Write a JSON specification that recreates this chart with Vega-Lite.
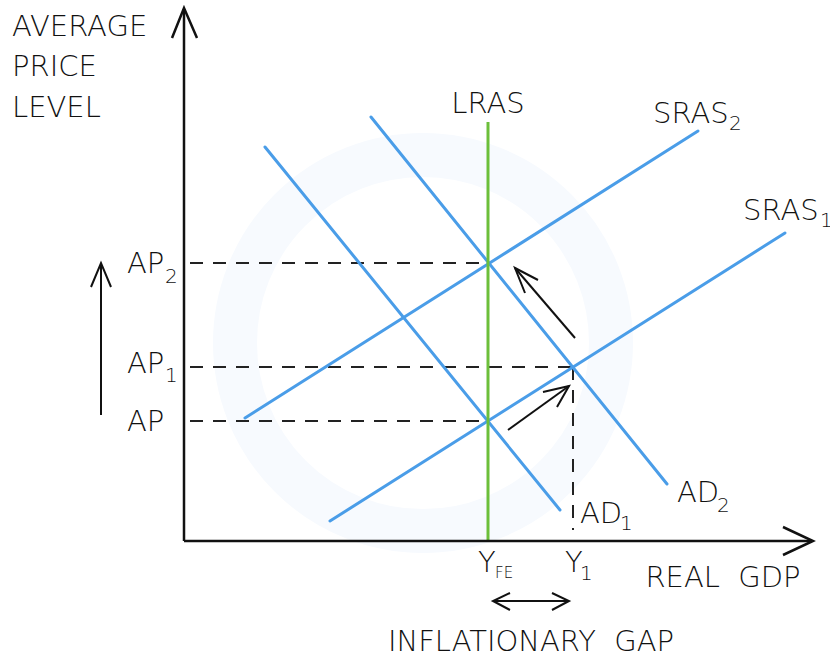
{
  "$schema": "https://vega.github.io/schema/vega-lite/v6.json",
  "width": 830,
  "height": 655,
  "autosize": {"type": "none"},
  "padding": 0,
  "background": "white",
  "config": {"view": {"stroke": null}},
  "layer": [
    {
      "data": {"values": [{"name": "watermark ring", "x": 239, "y": 198}]},
      "mark": {"type": "point", "shape": "circle", "filled": false, "size": 141376, "strokeWidth": 44, "color": "#f7fafe", "opacity": 1},
      "encoding": {
        "x": {"field": "x", "type": "quantitative", "scale": {"domain": [-184, 646], "nice": false, "zero": false}, "axis": null},
        "y": {"field": "y", "type": "quantitative", "scale": {"domain": [-114, 541], "nice": false, "zero": false}, "axis": null}
      }
    },
    {
      "data": {"values": [
        {"id": "ap2", "o": 1, "x": 6, "y": 278}, {"id": "ap2", "o": 2, "x": 304, "y": 278},
        {"id": "ap1", "o": 1, "x": 6, "y": 174}, {"id": "ap1", "o": 2, "x": 389, "y": 174},
        {"id": "ap", "o": 1, "x": 6, "y": 120}, {"id": "ap", "o": 2, "x": 304, "y": 120},
        {"id": "y1", "o": 1, "x": 389, "y": 174}, {"id": "y1", "o": 2, "x": 389, "y": 11}
      ]},
      "mark": {"type": "line", "color": "#222222", "strokeWidth": 2, "strokeDash": [13, 10]},
      "encoding": {
        "x": {"field": "x", "type": "quantitative", "scale": {"domain": [-184, 646], "nice": false, "zero": false}, "axis": null},
        "y": {"field": "y", "type": "quantitative", "scale": {"domain": [-114, 541], "nice": false, "zero": false}, "axis": null},
        "detail": {"field": "id"},
        "order": {"field": "o"}
      }
    },
    {
      "data": {"values": [
        {"id": "SRAS2", "o": 1, "x": 61, "y": 123}, {"id": "SRAS2", "o": 2, "x": 514, "y": 410},
        {"id": "SRAS1", "o": 1, "x": 146, "y": 20}, {"id": "SRAS1", "o": 2, "x": 601, "y": 308},
        {"id": "AD1", "o": 1, "x": 81, "y": 394}, {"id": "AD1", "o": 2, "x": 376, "y": 31},
        {"id": "AD2", "o": 1, "x": 187, "y": 424}, {"id": "AD2", "o": 2, "x": 483, "y": 57}
      ]},
      "mark": {"type": "line", "color": "#4a9de8", "strokeWidth": 3, "strokeCap": "round"},
      "encoding": {
        "x": {"field": "x", "type": "quantitative", "scale": {"domain": [-184, 646], "nice": false, "zero": false}, "axis": null},
        "y": {"field": "y", "type": "quantitative", "scale": {"domain": [-114, 541], "nice": false, "zero": false}, "axis": null},
        "detail": {"field": "id"},
        "order": {"field": "o"}
      }
    },
    {
      "data": {"values": [
        {"id": "LRAS", "o": 1, "x": 304, "y": 419}, {"id": "LRAS", "o": 2, "x": 304, "y": 0}
      ]},
      "mark": {"type": "line", "color": "#6cbf3a", "strokeWidth": 3},
      "encoding": {
        "x": {"field": "x", "type": "quantitative", "scale": {"domain": [-184, 646], "nice": false, "zero": false}, "axis": null},
        "y": {"field": "y", "type": "quantitative", "scale": {"domain": [-114, 541], "nice": false, "zero": false}, "axis": null},
        "detail": {"field": "id"},
        "order": {"field": "o"}
      }
    },
    {
      "data": {"values": [
        {"id": "yaxis", "o": 1, "x": 0, "y": 0}, {"id": "yaxis", "o": 2, "x": 0, "y": 532},
        {"id": "yhead", "o": 1, "x": -12, "y": 503}, {"id": "yhead", "o": 2, "x": 0, "y": 533}, {"id": "yhead", "o": 3, "x": 13, "y": 503},
        {"id": "xaxis", "o": 1, "x": 0, "y": 0}, {"id": "xaxis", "o": 2, "x": 628, "y": 0},
        {"id": "xhead", "o": 1, "x": 599, "y": 14}, {"id": "xhead", "o": 2, "x": 629, "y": 0}, {"id": "xhead", "o": 3, "x": 599, "y": -14}
      ]},
      "mark": {"type": "line", "color": "#111111", "strokeWidth": 2.5, "strokeJoin": "miter"},
      "encoding": {
        "x": {"field": "x", "type": "quantitative", "scale": {"domain": [-184, 646], "nice": false, "zero": false}, "axis": null},
        "y": {"field": "y", "type": "quantitative", "scale": {"domain": [-114, 541], "nice": false, "zero": false}, "axis": null},
        "detail": {"field": "id"},
        "order": {"field": "o"}
      }
    },
    {
      "data": {"values": [
        {"id": "up", "o": 1, "x": -83, "y": 126}, {"id": "up", "o": 2, "x": -83, "y": 278},
        {"id": "uphead", "o": 1, "x": -93, "y": 254}, {"id": "uphead", "o": 2, "x": -83, "y": 278}, {"id": "uphead", "o": 3, "x": -73, "y": 254},
        {"id": "a1", "o": 1, "x": 324, "y": 111}, {"id": "a1", "o": 2, "x": 385, "y": 155},
        {"id": "a1head", "o": 1, "x": 359, "y": 149}, {"id": "a1head", "o": 2, "x": 385, "y": 155}, {"id": "a1head", "o": 3, "x": 373, "y": 134},
        {"id": "a2", "o": 1, "x": 391, "y": 203}, {"id": "a2", "o": 2, "x": 331, "y": 273},
        {"id": "a2head", "o": 1, "x": 354, "y": 261}, {"id": "a2head", "o": 2, "x": 331, "y": 273}, {"id": "a2head", "o": 3, "x": 341, "y": 248},
        {"id": "gap", "o": 1, "x": 309, "y": -60}, {"id": "gap", "o": 2, "x": 385, "y": -60},
        {"id": "gapl", "o": 1, "x": 326, "y": -52}, {"id": "gapl", "o": 2, "x": 309, "y": -60}, {"id": "gapl", "o": 3, "x": 326, "y": -69},
        {"id": "gapr", "o": 1, "x": 368, "y": -52}, {"id": "gapr", "o": 2, "x": 385, "y": -60}, {"id": "gapr", "o": 3, "x": 368, "y": -69}
      ]},
      "mark": {"type": "line", "color": "#111111", "strokeWidth": 2, "strokeJoin": "miter"},
      "encoding": {
        "x": {"field": "x", "type": "quantitative", "scale": {"domain": [-184, 646], "nice": false, "zero": false}, "axis": null},
        "y": {"field": "y", "type": "quantitative", "scale": {"domain": [-114, 541], "nice": false, "zero": false}, "axis": null},
        "detail": {"field": "id"},
        "order": {"field": "o"}
      }
    },
    {
      "data": {"values": [
        {"label": "AVERAGE", "x": -172, "y": 505},
        {"label": "PRICE", "x": -172, "y": 465},
        {"label": "LEVEL", "x": -172, "y": 424},
        {"label": "SRAS", "x": 469, "y": 418},
        {"label": "SRAS", "x": 559, "y": 321},
        {"label": "AP", "x": -57, "y": 268},
        {"label": "AP", "x": -57, "y": 168},
        {"label": "AP", "x": -57, "y": 110},
        {"label": "AD", "x": 396, "y": 18},
        {"label": "AD", "x": 493, "y": 39},
        {"label": "Y", "x": 294, "y": -31},
        {"label": "Y", "x": 381, "y": -31}
      ]},
      "mark": {"type": "text", "font": "DejaVu Sans", "fontSize": 29, "fontWeight": 300, "color": "#111111", "align": "left", "baseline": "alphabetic"},
      "encoding": {
        "x": {"field": "x", "type": "quantitative", "scale": {"domain": [-184, 646], "nice": false, "zero": false}, "axis": null},
        "y": {"field": "y", "type": "quantitative", "scale": {"domain": [-114, 541], "nice": false, "zero": false}, "axis": null},
        "text": {"field": "label"}
      }
    },
    {
      "data": {"values": [
        {"label": "LRAS", "x": 304, "y": 428},
        {"label": "REAL\u00a0\u00a0GDP", "x": 539, "y": -46},
        {"label": "INFLATIONARY\u00a0\u00a0GAP", "x": 347, "y": -110}
      ]},
      "mark": {"type": "text", "font": "DejaVu Sans", "fontSize": 29, "fontWeight": 300, "color": "#111111", "align": "center", "baseline": "alphabetic"},
      "encoding": {
        "x": {"field": "x", "type": "quantitative", "scale": {"domain": [-184, 646], "nice": false, "zero": false}, "axis": null},
        "y": {"field": "y", "type": "quantitative", "scale": {"domain": [-114, 541], "nice": false, "zero": false}, "axis": null},
        "text": {"field": "label"}
      }
    },
    {
      "data": {"values": [
        {"label": "2", "x": 545, "y": 411},
        {"label": "1", "x": 636, "y": 314},
        {"label": "2", "x": -19, "y": 258},
        {"label": "1", "x": -19, "y": 159},
        {"label": "1", "x": 436, "y": 11},
        {"label": "2", "x": 533, "y": 29},
        {"label": "1", "x": 396, "y": -39}
      ]},
      "mark": {"type": "text", "font": "DejaVu Sans", "fontSize": 20, "fontWeight": 300, "color": "#111111", "align": "left", "baseline": "alphabetic"},
      "encoding": {
        "x": {"field": "x", "type": "quantitative", "scale": {"domain": [-184, 646], "nice": false, "zero": false}, "axis": null},
        "y": {"field": "y", "type": "quantitative", "scale": {"domain": [-114, 541], "nice": false, "zero": false}, "axis": null},
        "text": {"field": "label"}
      }
    },
    {
      "data": {"values": [
        {"label": "FE", "x": 311, "y": -37}
      ]},
      "mark": {"type": "text", "font": "DejaVu Sans", "fontSize": 15, "fontWeight": 300, "color": "#111111", "align": "left", "baseline": "alphabetic"},
      "encoding": {
        "x": {"field": "x", "type": "quantitative", "scale": {"domain": [-184, 646], "nice": false, "zero": false}, "axis": null},
        "y": {"field": "y", "type": "quantitative", "scale": {"domain": [-114, 541], "nice": false, "zero": false}, "axis": null},
        "text": {"field": "label"}
      }
    }
  ]
}
